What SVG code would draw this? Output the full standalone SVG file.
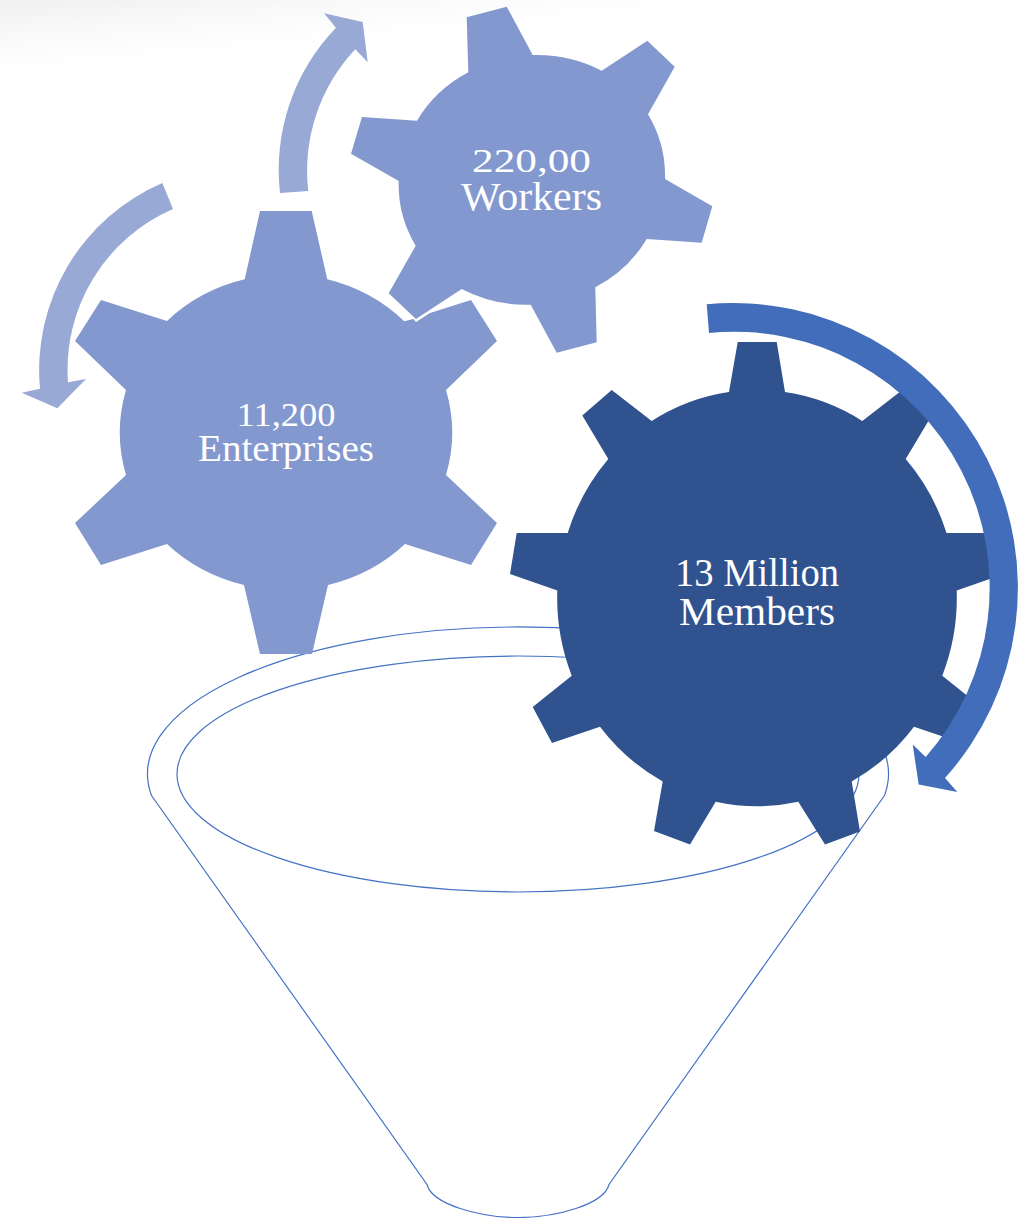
<svg xmlns="http://www.w3.org/2000/svg" width="1018" height="1218" viewBox="0 0 1018 1218">
<style>
.t{font-family:"Liberation Serif","Times New Roman",serif;fill:#fff;text-anchor:middle}
.light{fill:#8298cf}
.dark{fill:#30528f}
.arw{fill:#98a9d5}
.blue{fill:#416dba}
.fun{fill:none;stroke:#4472c4;stroke-width:1.2}
</style>
<defs>
<linearGradient id="bg" gradientUnits="userSpaceOnUse" x1="0" y1="0" x2="7" y2="72">
<stop offset="0" stop-color="#f0f0f0"/><stop offset="0.5" stop-color="#f9f9f9"/><stop offset="1" stop-color="#fff"/>
</linearGradient>
</defs>
<rect width="1018" height="1218" fill="#fff"/>
<rect width="1018" height="100" fill="url(#bg)"/>
<g id="funnel">
<path class="fun" d="M151.500 796 A370.500 147 0 1 1 884.500 796 L609 1185 C604 1205 556 1218 518 1218 C480 1218 432 1205 427 1185 Z" transform="translate(0 -0.500)"/>
<ellipse class="fun" cx="518" cy="774" rx="341" ry="118"/>
</g>
<g id="gear-enterprises">
<path class="light" d="M260 211 L311.700 211 L327.300 279.300 A167 158 0 0 1 404.300 321.300 L413.300 319 L416 322 L430 313 L471 300 L497 341 L446 390 A167 158 0 0 1 446 475 L497 523 L471 565 L405 544 A167 158 0 0 1 328 585 L312 654 L260 654 L244 585 A167 158 0 0 1 167 544 L101 565 L75 523 L126 475 A167 158 0 0 1 126 390 L75 341 L101 300 L167 321 A167 158 0 0 1 244.700 279.300 Z"/>
<text class="t" x="286" y="426" font-size="34" textLength="99" lengthAdjust="spacingAndGlyphs">11,200</text>
<text class="t" x="286" y="461" font-size="38" textLength="176" lengthAdjust="spacingAndGlyphs">Enterprises</text>
</g>
<g id="gear-workers">
<path class="light" d="M466.700 17.300 L506.700 6.700 L532.700 55 A133 125 0 0 1 601.700 70.700 L647.300 40.700 L674.700 66.700 L648 114.300 A133 125 0 0 1 665 179 L712.300 206.300 L701.700 242.700 L646.700 239 A133 125 0 0 1 595.300 287.300 L596.700 342.300 L556.700 352.700 L530.700 304.700 A133 125 0 0 1 461.700 289 L416 319 L388.700 293.300 L415.700 245.700 A133 125 0 0 1 398.700 181 L351 153.700 L362 117 L417 120.700 A133 125 0 0 1 468.300 72.300 Z"/>
<text class="t" x="531.500" y="172" font-size="34" textLength="119" lengthAdjust="spacingAndGlyphs">220,00</text>
<text class="t" x="531.500" y="210" font-size="40" textLength="141" lengthAdjust="spacingAndGlyphs">Workers</text>
</g>
<g id="gear-members">
<path class="dark" d="M737.700 342 L776.700 342 L785 392 A200 208 0 0 1 862.300 421 L902.300 390 L931.700 415.400 L905.700 459 A200 208 0 0 1 946.500 533 L997.300 533 L1004 574 L956.700 590.400 A200 208 0 0 1 942.300 675.700 L981.300 707 L962 742.900 L914 726.800 A200 208 0 0 1 851.700 781.400 L860 831.400 L825 844.600 L798.300 801.800 A200 208 0 0 1 715.700 801.800 L690 844.600 L654 831 L662.700 781.400 A200 208 0 0 1 600 726.800 L552 742.900 L532.700 707 L571.700 675.700 A200 208 0 0 1 557.300 590.400 L510 574 L516.700 533 L567.700 533 A200 208 0 0 1 608.300 459 L582.300 415.400 L611.700 390 L651.700 421 A200 208 0 0 1 729 392 Z"/>
<text class="t" x="757" y="586" font-size="40" textLength="164" lengthAdjust="spacingAndGlyphs">13 Million</text>
<text class="t" x="757" y="625" font-size="41" textLength="156" lengthAdjust="spacingAndGlyphs">Members</text>
</g>
<g id="connectors">
<path class="arw" d="M280 193 A205 205 0 0 1 336 27.700 L324 13.300 L362.700 22 L367.700 62.300 L355.300 49.300 A177 177 0 0 0 308.300 191 Z"/>
<path class="arw" d="M162.300 183 A203.500 203.500 0 0 0 40 388.700 L21.700 392.700 L57.300 408.300 L86 379 L68 382.300 A175 175 0 0 1 173 209 Z"/>
<path class="blue" d="M706.700 304.300 A284.700 284.700 0 0 1 945 778 L957.300 792 L918.700 784.600 L912.700 744.600 L925.700 757 A256 256 0 0 0 709 332.900 Z"/>
</g>
</svg>
